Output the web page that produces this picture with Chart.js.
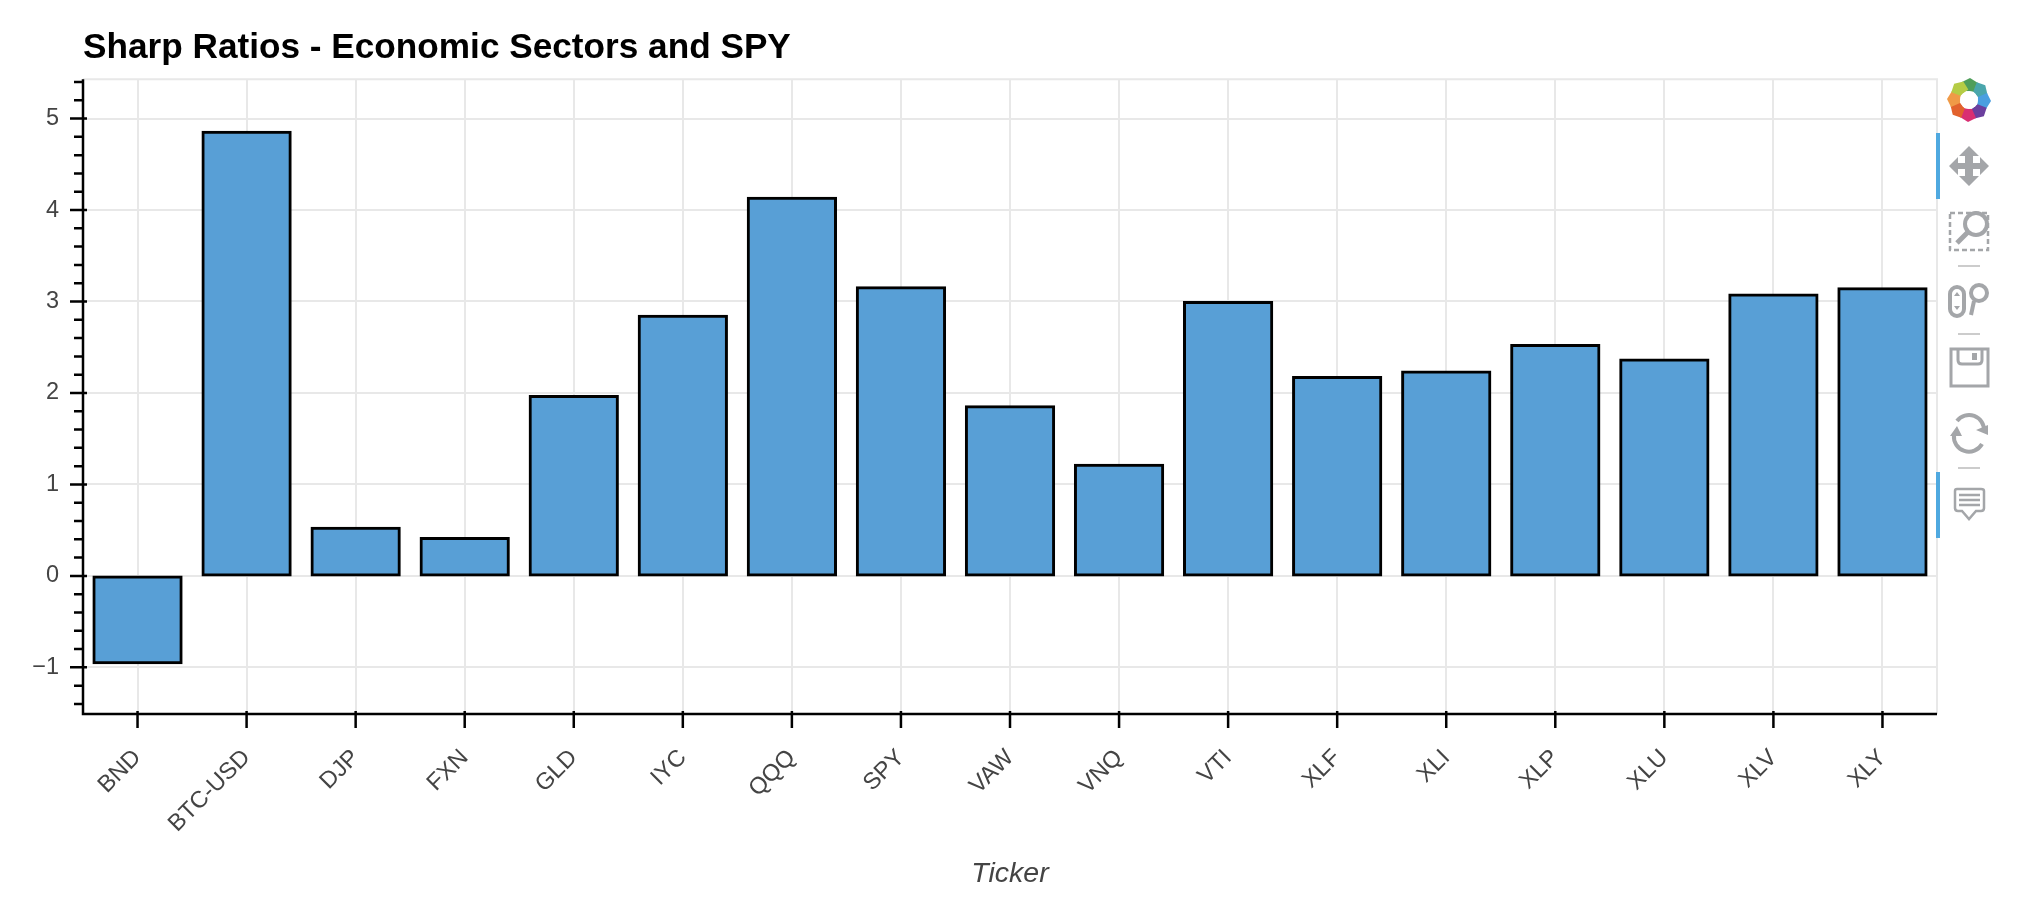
<!DOCTYPE html>
<html>
<head>
<meta charset="utf-8">
<title>Sharp Ratios</title>
<script src="https://cdn.jsdelivr.net/npm/chart.js@4"></script>
<style>
  html, body { margin: 0; padding: 0; background: #fff; }
  #wrap { position: relative; width: 2040px; height: 904px; overflow: hidden; }
  #toolbar { position: absolute; left: 0; top: 0; }
</style>
</head>
<body>
<div id="wrap">
  <canvas id="sharpChart" width="2040" height="904"></canvas>
  <!-- bokeh toolbar -->
  <svg id="toolbar" width="2040" height="904" fill="none" stroke="#a4a6a9">
    <rect x="1936" y="133" width="4" height="66" fill="#4fa9e0" stroke="none"/>
    <rect x="1936" y="472" width="4" height="66" fill="#4fa9e0" stroke="none"/>
    <g transform="translate(1969,100)" stroke="none">
      <path transform="rotate(0)" d="M-7 -18 L1 -22 L9 -17 L7 -8 L-3 -9Z" fill="#4f9e5a"/>
      <path transform="rotate(45)" d="M-7 -18 L1 -22 L9 -17 L7 -8 L-3 -9Z" fill="#4aa6ac"/>
      <path transform="rotate(90)" d="M-7 -18 L1 -22 L9 -17 L7 -8 L-3 -9Z" fill="#4a9fe0"/>
      <path transform="rotate(135)" d="M-7 -18 L1 -22 L9 -17 L7 -8 L-3 -9Z" fill="#6b3f9e"/>
      <path transform="rotate(180)" d="M-7 -18 L1 -22 L9 -17 L7 -8 L-3 -9Z" fill="#d92f72"/>
      <path transform="rotate(225)" d="M-7 -18 L1 -22 L9 -17 L7 -8 L-3 -9Z" fill="#e2622d"/>
      <path transform="rotate(270)" d="M-7 -18 L1 -22 L9 -17 L7 -8 L-3 -9Z" fill="#f09a47"/>
      <path transform="rotate(315)" d="M-7 -18 L1 -22 L9 -17 L7 -8 L-3 -9Z" fill="#b5cc45"/>
      <circle r="9" fill="#fff"/>
    </g>
    <g fill="#a4a6a9" stroke="none">
      <path d="M1969 146 L1979 156 L1973 156 L1973 163 L1980 163 L1980 157 L1989 166 L1980 175 L1980 169 L1973 169 L1973 176 L1979 176 L1969 186 L1959 176 L1965 176 L1965 169 L1958 169 L1958 175 L1949 166 L1958 157 L1958 163 L1965 163 L1965 156 L1959 156Z"/>
    </g>
    <rect x="1950" y="213" width="38" height="37" stroke-width="2.5" stroke-dasharray="5 3"/>
    <circle cx="1976" cy="224" r="11" fill="#fff" stroke-width="4"/>
    <path d="M1968 232 L1957 243" stroke-width="5"/>
    <path d="M1958 266 H1980" stroke="#ccc" stroke-width="2"/>
    <rect x="1950" y="287" width="14" height="29" rx="7" stroke-width="4"/>
    <path d="M1957 292 l-3 4 h6z M1957 310 l-3 -4 h6z" fill="#a4a6a9" stroke="none"/>
    <circle cx="1979" cy="293" r="8" stroke-width="4"/>
    <path d="M1974 301 L1971 315" stroke-width="4"/>
    <path d="M1958 334 H1980" stroke="#ccc" stroke-width="2"/>
    <path d="M1951 349 H1988 V386 H1951Z" stroke-width="3"/>
    <path d="M1958 349 V360 Q1958 364 1962 364 H1978 Q1982 364 1982 360 V349" stroke-width="3"/>
    <rect x="1972" y="353" width="5" height="7" fill="#a4a6a9" stroke="none"/>
    <path d="M1984 431 A15 15 0 0 0 1957 421 M1954 435 A15 15 0 0 0 1982 444" stroke-width="4"/>
    <path d="M1976 430 L1988 425 L1988 435Z M1950 436 L1962 436 L1957 426Z" fill="#a4a6a9" stroke="none"/>
    <path d="M1958 468 H1980" stroke="#ccc" stroke-width="2"/>
    <path d="M1957 489 Q1955 489 1955 491 V508 Q1955 511 1958 511 H1962 L1969 519 L1976 511 H1981 Q1984 511 1984 508 V491 Q1984 489 1981 489Z" stroke-width="2.5"/>
    <path d="M1959 495 H1980 M1959 500 H1980 M1959 505 H1980" stroke-width="2.5"/>
  </svg>
</div>
<script>
const tickers = ["BND", "BTC-USD", "DJP", "FXN", "GLD", "IYC", "QQQ", "SPY", "VAW", "VNQ", "VTI", "XLF", "XLI", "XLP", "XLU", "XLV", "XLY"];
const sharpRatios = [-0.95, 4.85, 0.52, 0.41, 1.96, 2.84, 4.13, 3.15, 1.85, 1.21, 2.99, 2.17, 2.23, 2.52, 2.36, 3.07, 3.14];
const yMajorTicks = [-1, 0, 1, 2, 3, 4, 5];
const yMinorTicks = [-1.4, -1.2, -0.8, -0.6, -0.4, -0.2, 0.2, 0.4, 0.6, 0.8, 1.2, 1.4, 1.6, 1.8, 2.2, 2.4, 2.6, 2.8, 3.2, 3.4, 3.6, 3.8, 4.2, 4.4, 4.6, 4.8, 5.2, 5.4];

const FONT = "'Liberation Sans', Helvetica, Arial, sans-serif";
const AXIS_W = 2.5;

// Axis lines, ticks and plot outline the way bokeh draws them
const bokehAxes = {
  id: "bokehAxes",
  beforeDatasetsDraw(chart) {
    const { ctx, chartArea: a } = chart;
    ctx.save();
    ctx.strokeStyle = "#e8e8e8";
    ctx.lineWidth = 2;
    ctx.beginPath();
    ctx.moveTo(a.left, a.top);
    ctx.lineTo(a.right, a.top);
    ctx.lineTo(a.right, a.bottom);
    ctx.stroke();
    ctx.restore();
  },
  afterDatasetsDraw(chart) {
    const { ctx, chartArea: a, scales } = chart;
    ctx.save();
    ctx.strokeStyle = "#000";
    ctx.lineWidth = AXIS_W;
    ctx.beginPath();
    ctx.moveTo(a.left, a.top);
    ctx.lineTo(a.left, a.bottom);
    ctx.lineTo(a.right, a.bottom);
    yMajorTicks.forEach(v => {
      const y = scales.y.getPixelForValue(v);
      ctx.moveTo(a.left - 13, y);
      ctx.lineTo(a.left + 4, y);
    });
    yMinorTicks.forEach(v => {
      const y = scales.y.getPixelForValue(v);
      ctx.moveTo(a.left - 9, y);
      ctx.lineTo(a.left + 1, y);
    });
    tickers.forEach((t, i) => {
      const x = scales.x.getPixelForValue(i);
      ctx.moveTo(x, a.bottom - 3);
      ctx.lineTo(x, a.bottom + 14);
    });
    ctx.stroke();
    ctx.restore();
  }
};

new Chart(document.getElementById("sharpChart"), {
  type: "bar",
  data: {
    labels: tickers,
    datasets: [{
      data: sharpRatios,
      backgroundColor: "#589fd6",
      borderColor: "#000",
      borderWidth: 3,
      borderSkipped: false,
      inflateAmount: 1.5,
      barPercentage: 0.8,
      categoryPercentage: 1
    }]
  },
  plugins: [bokehAxes],
  options: {
    responsive: false,
    animation: false,
    layout: { padding: { left: 0, right: 103, top: 0, bottom: 0 } },
    plugins: {
      legend: { display: false },
      tooltip: { enabled: false },
      title: {
        display: true,
        text: "Sharp Ratios - Economic Sectors and SPY",
        align: "start",
        fullSize: false,
        color: "#000",
        font: { family: FONT, size: 35.2, weight: "bold" },
        padding: { top: 27, bottom: 10 }
      }
    },
    scales: {
      x: {
        grid: { offset: false, color: "#e8e8e8", lineWidth: 2, drawTicks: false },
        border: { display: false },
        afterFit(s) { s.height = 190; },
        ticks: {
          autoSkip: false,
          minRotation: 45,
          maxRotation: 45,
          padding: 30,
          color: "#444",
          font: { family: FONT, size: 23.5 }
        },
        title: {
          display: true,
          text: "Ticker",
          color: "#444",
          font: { family: FONT, size: 28.5, style: "italic" },
          padding: { top: 0, bottom: 13 }
        }
      },
      y: {
        min: -1.51,
        max: 5.43,
        afterBuildTicks(s) { s.ticks = yMajorTicks.map(v => ({ value: v })); },
        afterFit(s) { s.width = 83; },
        grid: { color: "#e8e8e8", lineWidth: 2, drawTicks: false },
        border: { display: false },
        ticks: {
          padding: 24,
          color: "#444",
          font: { family: FONT, size: 23.5 },
          callback: v => String(v).replace("-", "\u2212")
        }
      }
    }
  }
});
</script>
</body>
</html>
